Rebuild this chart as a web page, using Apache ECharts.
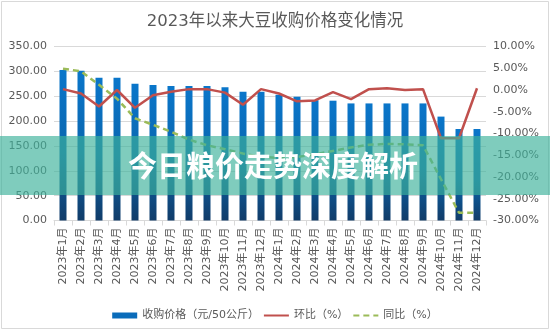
<!DOCTYPE html>
<html>
<head>
<meta charset="utf-8">
<script src="https://cdn.jsdelivr.net/npm/echarts@6/dist/echarts.min.js"></script>
<style>
  html, body { margin: 0; padding: 0; background: #fff; }
  #chart { width: 550px; height: 331px; }
</style>
</head>
<body>
<div id="chart"></div>
<script>
// Months covered by the chart
var months = [
  '2023年1月', '2023年2月', '2023年3月', '2023年4月', '2023年5月', '2023年6月',
  '2023年7月', '2023年8月', '2023年9月', '2023年10月', '2023年11月', '2023年12月',
  '2024年1月', '2024年2月', '2024年3月', '2024年4月', '2024年5月', '2024年6月',
  '2024年7月', '2024年8月', '2024年9月', '2024年10月', '2024年11月', '2024年12月'
];

// Purchase price (yuan per 50 kg)
var purchasePrice = [
  302.5, 301, 287, 287, 275, 272.5, 270.5, 270.5, 270.5, 268, 259, 259,
  253, 249, 242, 241, 235.5, 235.5, 235.5, 235.5, 235.5, 209, 184, 184
];

// Month-on-month change (%)
var momChange = [
  0.2, -0.8, -3.8, 0.0, -4.1, -1.2, -0.4, 0.2, 0.2, -0.6, -3.4, 0.2,
  -0.8, -2.6, -2.4, -0.5, -2.1, 0.2, 0.4, 0.0, 0.2, -11.1, -11.1, 0.4
];

// Year-on-year change (%)
var yoyChange = [
  4.9, 4.3, 1.2, -2.0, -6.5, -8.0, -9.6, -11.4, -12.7, -13.6, -14.6, -15.4,
  -15.6, -15.4, -14.8, -14.0, -13.2, -12.6, -12.4, -12.5, -12.7, -20.5, -28.2, -28.2
];

// Tick settings for both value axes
var priceTicks = { min: 0, max: 350, step: 50 };
var pctTicks = { min: -30, max: 10, step: 5 };

var titleText = '2023年以来大豆收购价格变化情况';
var bannerText = '今日粮价走势深度解析';
var seriesNames = ['收购价格（元/50公斤）', '环比（%）', '同比（%）'];

var FONT = "'DejaVu Sans', 'Noto Sans CJK SC', sans-serif";
var GREY_TEXT = '#595959';

var chart = echarts.init(document.getElementById('chart'), null, { renderer: 'canvas' });

chart.setOption({
  animation: false,
  backgroundColor: '#ffffff',
  textStyle: { fontFamily: FONT },
  title: {
    text: titleText,
    left: 'center',
    top: 8,
    textStyle: { fontFamily: FONT, fontSize: 16.5, fontWeight: 'normal', color: GREY_TEXT }
  },
  legend: {
    top: 305,
    left: 'center',
    itemGap: 4,
    itemWidth: 25,
    itemHeight: 6,
    textStyle: { fontFamily: FONT, fontSize: 11, color: GREY_TEXT },
    data: [
      { name: seriesNames[0], icon: 'rect', itemStyle: { color: '#0A6CBA' } },
      // line keys: plain stroke, no marker dot
      { name: seriesNames[1], itemStyle: { opacity: 0 } },
      { name: seriesNames[2], itemStyle: { opacity: 0 } }
    ]
  },
  grid: { left: 54, right: 64, top: 46.5, height: 174 },
  xAxis: {
    type: 'category',
    data: months,
    boundaryGap: true,
    axisLine: { lineStyle: { color: '#d9d9d9', width: 1 } },
    axisTick: { show: true, alignWithLabel: false, length: 5, lineStyle: { color: '#d9d9d9' } },
    axisLabel: {
      rotate: 90,
      interval: 0,
      margin: 7,
      fontSize: 11,
      color: GREY_TEXT,
      fontFamily: FONT
    },
    splitLine: { show: false }
  },
  yAxis: [
    {
      type: 'value',
      min: priceTicks.min,
      max: priceTicks.max,
      interval: priceTicks.step,
      axisLine: { show: false },
      axisTick: { show: false },
      axisLabel: {
        margin: 7, fontSize: 11, color: GREY_TEXT, fontFamily: FONT,
        formatter: function (v) { return v.toFixed(2); }
      },
      splitLine: { lineStyle: { color: '#d9d9d9', width: 1 } }
    },
    {
      type: 'value',
      min: pctTicks.min,
      max: pctTicks.max,
      interval: pctTicks.step,
      axisLine: { show: false },
      axisTick: { show: false },
      axisLabel: {
        margin: 7, fontSize: 11, color: GREY_TEXT, fontFamily: FONT,
        formatter: function (v) { return v.toFixed(2) + '%'; }
      },
      splitLine: { show: false }
    }
  ],
  series: [
    {
      name: seriesNames[0],
      type: 'bar',
      yAxisIndex: 0,
      barWidth: 7,
      data: purchasePrice,
      itemStyle: {
        color: new echarts.graphic.LinearGradient(0, 0, 0, 1, [
          { offset: 0, color: '#0A76CA' },
          { offset: 0.55, color: '#0B66AE' },
          { offset: 1, color: '#113C69' }
        ])
      }
    },
    {
      name: seriesNames[1],
      type: 'line',
      yAxisIndex: 1,
      data: momChange,
      symbol: 'none',
      lineStyle: { color: '#C0504D', width: 2.5 },
      itemStyle: { color: '#C0504D' },
      z: 3
    },
    {
      name: seriesNames[2],
      type: 'line',
      yAxisIndex: 1,
      data: yoyChange,
      symbol: 'none',
      lineStyle: { color: '#9BBB59', width: 2.5, type: [6, 4] },
      itemStyle: { color: '#9BBB59' },
      z: 4
    }
  ],
  graphic: [
    {
      type: 'rect',
      z: 0,
      silent: true,
      shape: { x: 1.5, y: 1.5, width: 547, height: 327 },
      style: { fill: 'none', stroke: '#d9d9d9', lineWidth: 1 }
    },
    {
      type: 'rect',
      z: 100,
      silent: true,
      shape: { x: 0, y: 136, width: 550, height: 59 },
      style: { fill: 'rgba(60,178,155,0.66)' }
    },
    {
      type: 'text',
      z: 101,
      silent: true,
      x: 273,
      y: 166,
      style: {
        text: bannerText,
        fill: '#ffffff',
        font: "bold 29px 'Noto Sans CJK SC', sans-serif",
        align: 'center',
        verticalAlign: 'middle'
      }
    }
  ]
});
</script>
</body>
</html>
